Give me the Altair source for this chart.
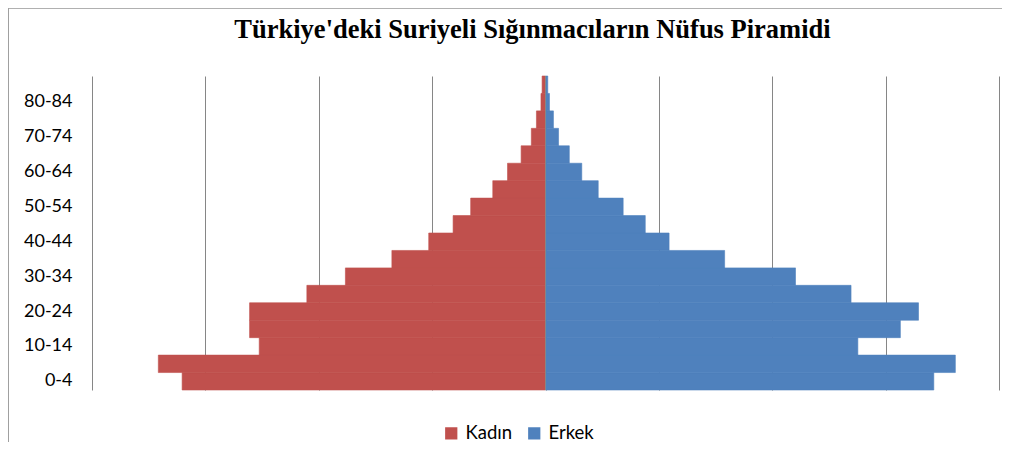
import altair as alt
import pandas as pd

# Age groups (bottom to top)
ages = ["0-4", "5-9", "10-14", "15-19", "20-24", "25-29", "30-34", "35-39",
        "40-44", "45-49", "50-54", "55-59", "60-64", "65-69", "70-74",
        "75-79", "80-84", "85+"]
# Share of total population (%)
kadin = [6.41, 6.83, 5.05, 5.22, 5.22, 4.21, 3.53, 2.71, 2.06, 1.63,
         1.32, 0.93, 0.67, 0.43, 0.25, 0.16, 0.08, 0.06]
erkek = [6.85, 7.23, 5.51, 6.26, 6.58, 5.39, 4.41, 3.16, 2.18, 1.76,
         1.37, 0.93, 0.64, 0.42, 0.23, 0.14, 0.07, 0.04]
shown_labels = ["0-4", "10-14", "20-24", "30-34", "40-44", "50-54",
                "60-64", "70-74", "80-84"]
grid_values = [-8, -6, -4, -2, 0, 2, 4, 6, 8]
series = ["Kadın", "Erkek"]
colors = ["#C0504D", "#4F81BD"]

rows = []
for a, k, e in zip(ages, kadin, erkek):
    rows.append({"age": a, "sex": "Kadın", "value": -k})
    rows.append({"age": a, "sex": "Erkek", "value": e})
df = pd.DataFrame(rows)

W, H = 907, 314
PL, PT, PR, PB = 84, 68, 3, 52

xscale = alt.Scale(domain=[-8, 8], nice=False, zero=False)
cscale = alt.Scale(domain=series, range=colors)

bars = alt.Chart(df).mark_bar(strokeWidth=0.6).encode(
    x=alt.X("value:Q", scale=xscale,
            axis=alt.Axis(values=grid_values, labels=False, ticks=False,
                          domain=False, grid=True, gridColor="#868686",
                          gridWidth=1, title=None)),
    y=alt.Y("age:N", sort=list(reversed(ages)),
            scale=alt.Scale(paddingInner=0, paddingOuter=0),
            axis=alt.Axis(values=shown_labels, ticks=False, tickSize=0,
                          domain=False, grid=False, title=None,
                          labelFont="Lato", labelFontSize=18,
                          labelColor="#000000", labelPadding=20)),
    color=alt.Color("sex:N", scale=cscale,
                    legend=alt.Legend(orient="none", legendX=350, legendY=348,
                                      direction="horizontal", title=None,
                                      symbolType="square", symbolSize=150,
                                      symbolStrokeWidth=0,
                                      labelFont="Lato", labelFontSize=18.5,
                                      labelColor="#000000", columnPadding=12,
                                      labelOffset=5, padding=0)),
    stroke=alt.Stroke("sex:N", scale=cscale, legend=None),
)

one = pd.DataFrame({"k": [0]})
center = alt.Chart(one).mark_rule(color="#868686", strokeWidth=1).encode(
    x=alt.X("k:Q", scale=xscale)
)

border_top = alt.Chart(one).mark_rule(color="#B0B0B0", strokeWidth=1).encode(
    x=alt.value(-PL), x2=alt.value(W + PR), y=alt.value(-PT + 0.5)
)
border_left = alt.Chart(one).mark_rule(color="#A0A0A0", strokeWidth=1).encode(
    x=alt.value(-PL + 0.5), y=alt.value(-PT), y2=alt.value(H + PB)
)

chart = alt.layer(bars, center, border_top, border_left).properties(
    width=W, height=H,
    title=alt.TitleParams(
        text="Türkiye'deki Suriyeli Sığınmacıların Nüfus Piramidi",
        font="Liberation Serif", fontSize=26.5, fontWeight="bold",
        color="#000000", anchor="middle", frame="group", dx=-13,
        offset=-57, baseline="alphabetic"),
    autosize=alt.AutoSizeParams(type="none"),
    padding={"left": PL, "top": PT, "right": PR, "bottom": PB},
    background="white",
).configure_view(stroke=None)

chart.save("out.html", embed_options={"renderer": "svg", "actions": False})
